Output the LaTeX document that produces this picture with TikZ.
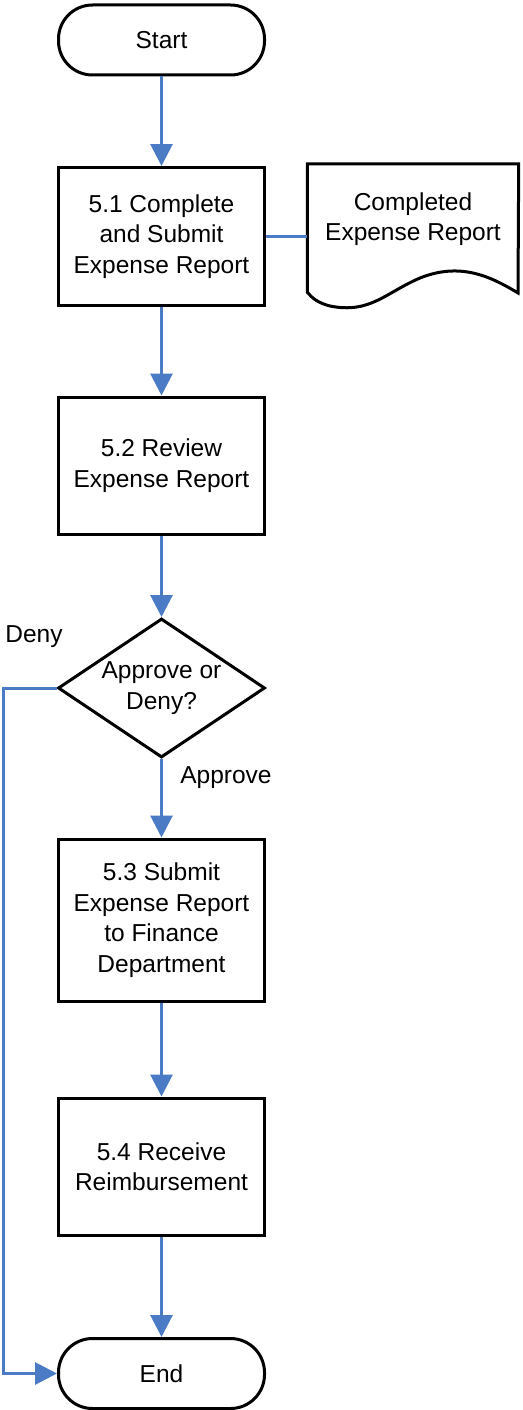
\documentclass[tikz,border=0pt]{standalone}
\usepackage{fontspec}
\setmainfont{Liberation Sans}
\usetikzlibrary{arrows.meta,shapes.geometric}
\definecolor{flowblue}{RGB}{74,123,196}
\begin{document}
\begin{tikzpicture}[x=1pt,y=-1pt,
  every node/.style={font=\fontsize{24.5}{30.5}\selectfont, align=center},
  term/.style={draw=black, line width=3pt, rounded corners=34pt, minimum width=206pt, minimum height=70pt, inner sep=0pt},
  proc/.style={draw=black, line width=3pt, minimum width=206pt, inner sep=0pt},
  dec/.style={draw=black, line width=3pt, diamond, minimum width=207pt, minimum height=139pt, inner sep=0pt},
  flow/.style={draw=flowblue, line width=3pt, -{Triangle[length=22pt,width=22pt]}},
  link/.style={draw=flowblue, line width=3pt}
]
\useasboundingbox (0,0) rectangle (522,1410);
\node[term] (start) at (161.5,40) {Start};
\node[proc, minimum height=138pt] (b1) at (161.5,236.5) {5.1 Complete\\and Submit\\Expense Report};
\node[proc, minimum height=137pt] (b2) at (161.5,465.5) {5.2 Review\\Expense Report};
\node[dec] (d) at (161.5,688) {};
\node (dtext) at (161.5,688) {Approve or\\Deny?};
\node[proc, minimum height=162pt] (b3) at (161.5,920) {5.3 Submit\\Expense Report\\to Finance\\Department};
\node[proc, minimum height=137pt] (b4) at (161.5,1166.5) {5.4 Receive\\Reimbursement};
\node[term] (end) at (161.5,1373.5) {End};
% document
\node[minimum width=211pt, minimum height=128pt, inner sep=0pt] (doc) at (413,228) {};
\draw[line width=3pt, line join=miter] (doc.south west) -- (doc.north west) -- (doc.north east) -- (518,293)
  .. controls (490,276) and (460,262) .. (420,278)
  .. controls (385,293) and (370,314) .. (330,306)
  .. controls (318,303) and (312,298) .. (doc.south west) -- cycle;
\node (doctext) at (413,219) {Completed\\Expense Report};
% connectors
\draw[flow] (start) -- (b1);
\draw[link] (b1.east) -- (b1.east -| doc.west);
\draw[flow] (b1) -- (b2);
\draw[flow] (b2) -- (d.north);
\draw[flow] (d.south) -- (b3);
\draw[flow] (b3) -- (b4);
\draw[flow] (b4) -- (end);
\coordinate (lx) at (3,0);
\draw[flow] (d.west) -- (d.west -| lx) -- (end.west -| lx) -- (end.west);
\node (deny) at (34,637) {Deny};
\node (appr) at (226,778) {Approve};
\end{tikzpicture}
\end{document}
